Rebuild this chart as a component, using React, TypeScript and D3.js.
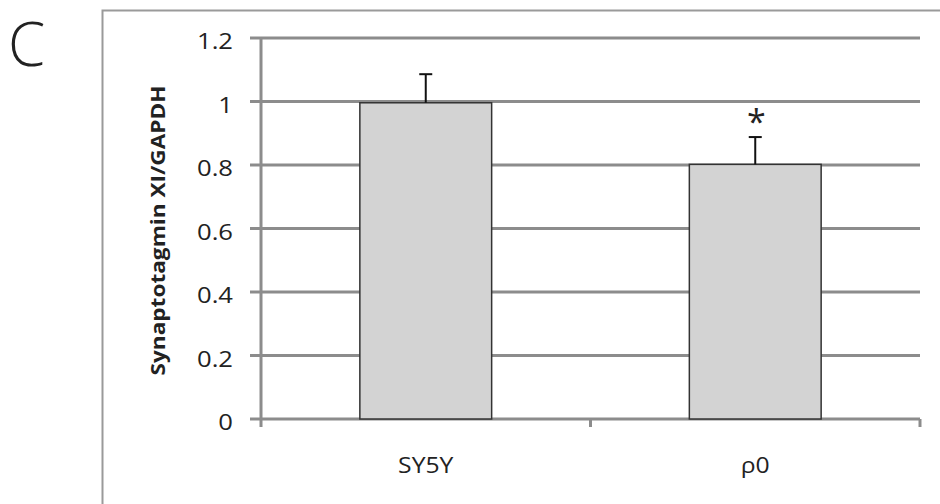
import React from "react";
import * as d3 from "d3";

const categories = ["SY5Y", "ρ0"];
const values = [0.996, 0.802];
const errors = [0.09, 0.086];
const significance = ["", "*"];
const yTicks = [0, 0.2, 0.4, 0.6, 0.8, 1, 1.2];
const yTickLabels = ["0", "0.2", "0.4", "0.6", "0.8", "1", "1.2"];

export default function App() {
  const W = 940, H = 504;
  const left = 261, right = 920, top = 38, bottom = 419;
  const x = d3.scaleBand<string>().domain(categories).range([left, right]).paddingInner(0.6).paddingOuter(0.3);
  const xOuter = d3.scaleBand<string>().domain(categories).range([left, right]);
  const y = d3.scaleLinear().domain([0, 1.2]).range([bottom, top]);
  const grid = "#8c8c8c";
  const font = "'Open Sans', 'Liberation Sans', sans-serif";
  return (
    <svg width={W} height={H} style={{ position: "absolute", left: 0, top: 0, background: "#fff" }}>
      <rect x={102.5} y={10.5} width={900} height={600} fill="none" stroke="#9a9a9a" strokeWidth={2} />
      <text x={8} y={66} fontFamily={font} fontSize={60} fontWeight={300} fill="#222">C</text>
      {yTicks.map((t, i) => (
        <g key={t}>
          {i > 0 && <line x1={left} x2={right} y1={y(t)} y2={y(t)} stroke={grid} strokeWidth={3} />}
          <line x1={250} x2={left} y1={y(t)} y2={y(t)} stroke={grid} strokeWidth={3} />
          <g transform={`translate(233,${y(t) + 3.5}) scale(1.22,1)`}>
            <text x={0} y={0} dy="0.36em" textAnchor="end" fontFamily={font} fontSize={21} fill="#222">{yTickLabels[i]}</text>
          </g>
        </g>
      ))}
      <line x1={left} x2={left} y1={top} y2={bottom + 8} stroke={grid} strokeWidth={3} />
      <line x1={left} x2={right} y1={bottom} y2={bottom} stroke={grid} strokeWidth={3} />
      {categories.map((c) => (
        <line key={c} x1={(xOuter(c) as number) + xOuter.bandwidth()} x2={(xOuter(c) as number) + xOuter.bandwidth()} y1={bottom} y2={bottom + 8} stroke={grid} strokeWidth={3} />
      ))}
      {categories.map((c, i) => {
        const bx = x(c) as number;
        const bw = x.bandwidth();
        const cx = bx + bw / 2;
        return (
          <g key={c}>
            <rect x={bx} y={y(values[i])} width={bw} height={bottom - y(values[i])} fill="#d3d3d3" stroke="#333" strokeWidth={1.5} />
            <line x1={cx} x2={cx} y1={y(values[i])} y2={y(values[i] + errors[i])} stroke="#111" strokeWidth={2} />
            <line x1={cx - 6.5} x2={cx + 6.5} y1={y(values[i] + errors[i])} y2={y(values[i] + errors[i])} stroke="#111" strokeWidth={2} />
            {significance[i] && (
              <text x={cx + 1} y={y(values[i] + errors[i]) - 3} textAnchor="middle" fontFamily={font} fontSize={34} fill="#222">{significance[i]}</text>
            )}
            <g transform={`translate(${(xOuter(c) as number) + xOuter.bandwidth() / 2},473) scale(1.15,1)`}>
              <text x={0} y={0} textAnchor="middle" fontFamily={font} fontSize={21.5} fill="#222">{c}</text>
            </g>
          </g>
        );
      })}
      <text transform={`translate(165,${(top + bottom) / 2 + 2}) rotate(-90)`} textAnchor="middle" fontFamily={font} fontSize={19} fontWeight={700} fill="#222" textLength={290} lengthAdjust="spacingAndGlyphs">Synaptotagmin XI/GAPDH</text>
    </svg>
  );
}
